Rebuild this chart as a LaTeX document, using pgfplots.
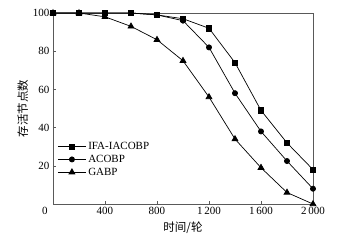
\documentclass[border=0pt]{standalone}
\usepackage{pgfplots}
\pgfplotsset{compat=1.18}
\usepackage{fontspec}
\setmainfont{Liberation Serif}
\newfontfamily\cjk{Noto Sans CJK SC}
\begin{document}
\begin{tikzpicture}
\begin{axis}[
  at={(0,0)}, anchor=south west,
  scale only axis, width=260pt, height=191pt,
  xmin=0, xmax=2000, ymin=0, ymax=100,
  clip=false,
  axis line style={gray!70!black, line width=0.6pt},
  xtick={400,800,1200,1600,2000},
  extra x ticks={0},
  extra x tick style={major tick length=0pt, xticklabel style={xshift=-8pt}},
  ytick={20,40,60,80,100},
  tick pos=left, tick align=inside, major tick length=3pt,
  tick style={gray!70!black, line width=0.5pt},
  /pgf/number format/assume math mode=true,
  /pgf/number format/1000 sep={\,},
  tick label style={font=\fontsize{11}{12}\selectfont},
  xlabel={\cjk 时间/轮}, ylabel={\cjk 存活节点数},
  label style={font=\fontsize{11.5}{13}\selectfont},
  xlabel style={yshift=0pt},
  ylabel style={yshift=-2pt},
  legend style={draw=none, fill=none, at={(0.013,0.34)}, anchor=north west,
    font=\fontsize{11}{12}\selectfont, row sep=0pt, inner sep=1pt},
  legend cell align=left,
  legend image code/.code={\draw[#1] (0pt,0pt) -- (28pt,0pt); \draw[#1, only marks] plot coordinates {(14pt,0pt)};},
  every axis plot/.append style={black, line width=0.7pt},
]
\addplot[mark=square*, mark size=2.6pt] coordinates {(0,100)(200,100)(400,100)(600,100)(800,99)(1000,97)(1200,92)(1400,74)(1600,49)(1800,32)(2000,18)};
\addplot[mark=*, mark size=2.6pt] coordinates {(0,100)(200,100)(400,100)(600,100)(800,99)(1000,96)(1200,82)(1400,58)(1600,38)(1800,22.5)(2000,8)};
\addplot[mark=triangle*, mark size=3.4pt] coordinates {(0,100)(200,100)(400,98)(600,93)(800,86)(1000,75)(1200,56)(1400,34)(1600,19)(1800,6)(2000,0)};
\legend{IFA-IACOBP, ACOBP, GABP}
\end{axis}
\path (-53pt,-37pt) rectangle (288pt,204pt);
\end{tikzpicture}
\end{document}
